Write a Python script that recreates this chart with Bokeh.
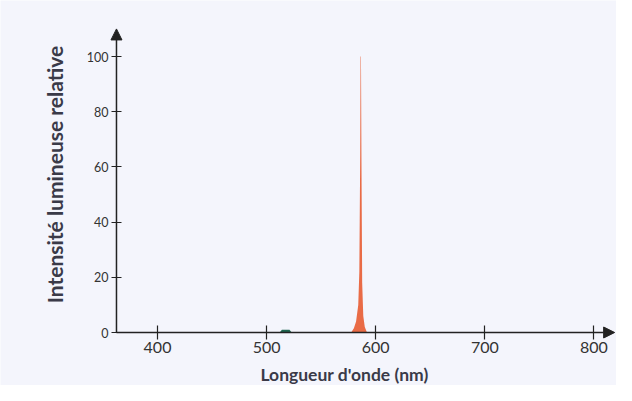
import math
from bokeh.plotting import figure
from bokeh.models import Range1d, Arrow, NormalHead, FixedTicker, Label
from bokeh.embed import file_html
from bokeh.resources import INLINE

# Data
peak_wavelength = [577.5, 580, 582, 584, 585, 585.8, 586.1, 586.5, 586.9, 587.6, 588.6, 590, 592]
peak_intensity = [0, 1.5, 4, 10, 22, 65, 100, 100, 65, 18, 6, 2, 0]
green_wavelength = [512, 514, 521, 523]
green_intensity = [0, 1.0, 1.0, 0]
x_ticks = [400, 500, 600, 700, 800]
y_ticks = [0, 20, 40, 60, 80, 100]
x_title = "Longueur d'onde (nm)"
y_title = "Intensité lumineuse relative"
x_axis_at, x_arrow_end = 362.4, 819
y_axis_at, y_arrow_end = 0, 110

bg = "#f4f5fc"
ink = "#222222"
title_color = "#3a3a48"

p = figure(width=616, height=385, output_backend="svg", toolbar_location=None,
           x_range=Range1d(256.1, 820.7), y_range=Range1d(-19.2, 120.3),
           min_border=0)
p.background_fill_color = bg
p.border_fill_color = bg
p.outline_line_color = None
p.grid.visible = False

p.varea(x=peak_wavelength, y1=0, y2=peak_intensity, fill_color="#e8633c", fill_alpha=0.95)
p.varea(x=green_wavelength, y1=0, y2=green_intensity, fill_color="#1f6650")

for ax in (p.xaxis[0], p.yaxis[0]):
    ax.axis_line_color = None
    ax.major_tick_line_color = ink
    ax.major_tick_line_width = 1.2
    ax.minor_tick_line_color = None
    ax.major_label_text_font = "Lato"
    ax.major_label_text_color = "#333333"

p.xaxis.fixed_location = y_axis_at
p.yaxis.fixed_location = x_axis_at
p.xaxis.ticker = FixedTicker(ticks=x_ticks)
p.yaxis.ticker = FixedTicker(ticks=y_ticks)
p.xaxis.major_label_text_font_size = "16px"
p.yaxis.major_label_text_font_size = "12.5px"
p.xaxis.major_tick_in = 7
p.xaxis.major_tick_out = 7
p.yaxis.major_tick_in = 5
p.yaxis.major_tick_out = 5
p.xaxis.major_label_standoff = 2
p.yaxis.major_label_standoff = 3

p.add_layout(Label(x=344, y=11, x_units="screen", y_units="screen", text=x_title,
                   text_font="Lato", text_font_style="bold", text_font_size="17.5px",
                   text_color=title_color, text_align="center", text_baseline="middle"))
p.add_layout(Label(x=54, y=211, x_units="screen", y_units="screen", text=y_title,
                   angle=math.pi / 2,
                   text_font="Lato", text_font_style="bold", text_font_size="21px",
                   text_color=title_color, text_align="center", text_baseline="middle"))

p.add_layout(Arrow(end=NormalHead(size=11, fill_color=ink, line_color=ink),
                   x_start=x_axis_at, y_start=y_axis_at, x_end=x_arrow_end, y_end=y_axis_at,
                   line_color=ink, line_width=1.5))
p.add_layout(Arrow(end=NormalHead(size=11, fill_color=ink, line_color=ink),
                   x_start=x_axis_at, y_start=y_axis_at, x_end=x_axis_at, y_end=y_arrow_end,
                   line_color=ink, line_width=1.5))

open("out.html", "w").write(file_html(p, INLINE))
